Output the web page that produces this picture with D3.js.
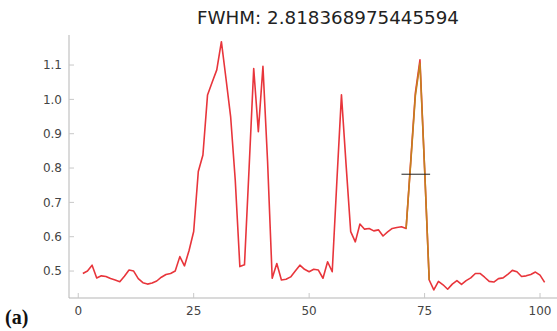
<!DOCTYPE html>
<html lang="en">
<head>
  <meta charset="UTF-8" />
  <title>FWHM</title>
  <script src="https://d3js.org/d3.v7.min.js"></script>
  <style>
    body { margin: 0; background: #fff; }
    svg { display: block; }
    .tick-label { font-family: 'DejaVu Sans', sans-serif; font-size: 12px; fill: #444; }
    .title { font-family: 'DejaVu Sans', sans-serif; font-size: 18.3px; fill: #222; }
    .panel { font-family: 'Liberation Serif', serif; font-weight: bold; font-size: 20px; fill: #111; }
  </style>
</head>
<body>
<svg width="557" height="331"></svg>
<script>
const titleText = "FWHM: 2.818368975445594";
const panelLabel = "(a)";

// signal, x = 1..101
const signal = [
  0.493, 0.500, 0.517, 0.480, 0.486, 0.484, 0.478, 0.474, 0.469, 0.485,
  0.503, 0.500, 0.478, 0.466, 0.462, 0.465, 0.471, 0.482, 0.490, 0.493,
  0.500, 0.542, 0.515, 0.560, 0.615, 0.790, 0.838, 1.013, 1.050, 1.086,
  1.168, 1.060, 0.950, 0.765, 0.513, 0.518, 0.800, 1.090, 0.906, 1.096,
  0.820, 0.479, 0.522, 0.474, 0.476, 0.483, 0.500, 0.517, 0.505, 0.498,
  0.505, 0.503, 0.479, 0.527, 0.498, 0.760, 1.013, 0.810, 0.615, 0.585,
  0.637, 0.622, 0.624, 0.617, 0.620, 0.602, 0.614, 0.624, 0.627, 0.629,
  0.624, 0.820, 1.018, 1.115, 0.800, 0.474, 0.445, 0.470, 0.460, 0.447,
  0.462, 0.472, 0.461, 0.472, 0.480, 0.493, 0.493, 0.482, 0.470, 0.468,
  0.478, 0.480, 0.490, 0.502, 0.498, 0.484, 0.486, 0.490, 0.497, 0.488,
  0.467
];
const signalX = signal.map((_, i) => i + 1);

// fitted peak segment
const peakX = [71, 72, 73, 74, 75, 76];
const peakY = [0.624, 0.815, 1.010, 1.105, 0.800, 0.474];

// half-maximum marker
const fwhmX = [70.0, 76.2];
const fwhmY = 0.782;

const xTicks = [0, 25, 50, 75, 100];
const yTicks = [0.5, 0.6, 0.7, 0.8, 0.9, 1.0, 1.1];

const svg = d3.select("svg");
const plotLeft = 69, plotRight = 558.5, plotTop = 35, plotBottom = 298;

const x = d3.scaleLinear().domain([-2, 104]).range([plotLeft, plotRight]);
const y = d3.scaleLinear().domain([0.4215, 1.1875]).range([plotBottom, plotTop]);

// axes
svg.append("line")
  .attr("x1", plotLeft).attr("x2", plotLeft).attr("y1", plotTop).attr("y2", plotBottom)
  .attr("stroke", "#b5b5b5").attr("stroke-width", 1);
svg.append("line")
  .attr("x1", plotLeft).attr("x2", plotRight).attr("y1", plotBottom).attr("y2", plotBottom)
  .attr("stroke", "#b5b5b5").attr("stroke-width", 1);

yTicks.forEach(t => {
  svg.append("line")
    .attr("x1", plotLeft).attr("x2", plotLeft + 5)
    .attr("y1", y(t)).attr("y2", y(t))
    .attr("stroke", "#c8c8c8");
  svg.append("text")
    .attr("class", "tick-label")
    .attr("x", plotLeft - 7)
    .attr("y", y(t))
    .attr("dy", "0.35em")
    .attr("text-anchor", "end")
    .text(d3.format(".1f")(t));
});

xTicks.forEach(t => {
  svg.append("line")
    .attr("x1", x(t)).attr("x2", x(t))
    .attr("y1", plotBottom).attr("y2", plotBottom - 5)
    .attr("stroke", "#c8c8c8");
  svg.append("text")
    .attr("class", "tick-label")
    .attr("x", x(t))
    .attr("y", plotBottom + 17)
    .attr("text-anchor", "middle")
    .text(t);
});

const line = d3.line().x(d => x(d[0])).y(d => y(d[1]));

svg.append("path")
  .datum(signalX.map((v, i) => [v, signal[i]]))
  .attr("fill", "none")
  .attr("stroke", "#e8353b")
  .attr("stroke-width", 1.6)
  .attr("stroke-linejoin", "round")
  .attr("d", line);

svg.append("path")
  .datum(peakX.map((v, i) => [v, peakY[i]]))
  .attr("fill", "none")
  .attr("stroke", "#c4801f")
  .attr("stroke-width", 1.6)
  .attr("stroke-linejoin", "round")
  .attr("d", line);

svg.append("line")
  .attr("x1", x(fwhmX[0])).attr("x2", x(fwhmX[1]))
  .attr("y1", y(fwhmY)).attr("y2", y(fwhmY))
  .attr("stroke", "#222").attr("stroke-width", 1);

svg.append("text")
  .attr("class", "title")
  .attr("x", 328)
  .attr("y", 24)
  .attr("text-anchor", "middle")
  .text(titleText);

svg.append("text")
  .attr("class", "panel")
  .attr("x", 5)
  .attr("y", 324)
  .text(panelLabel);
</script>
</body>
</html>
